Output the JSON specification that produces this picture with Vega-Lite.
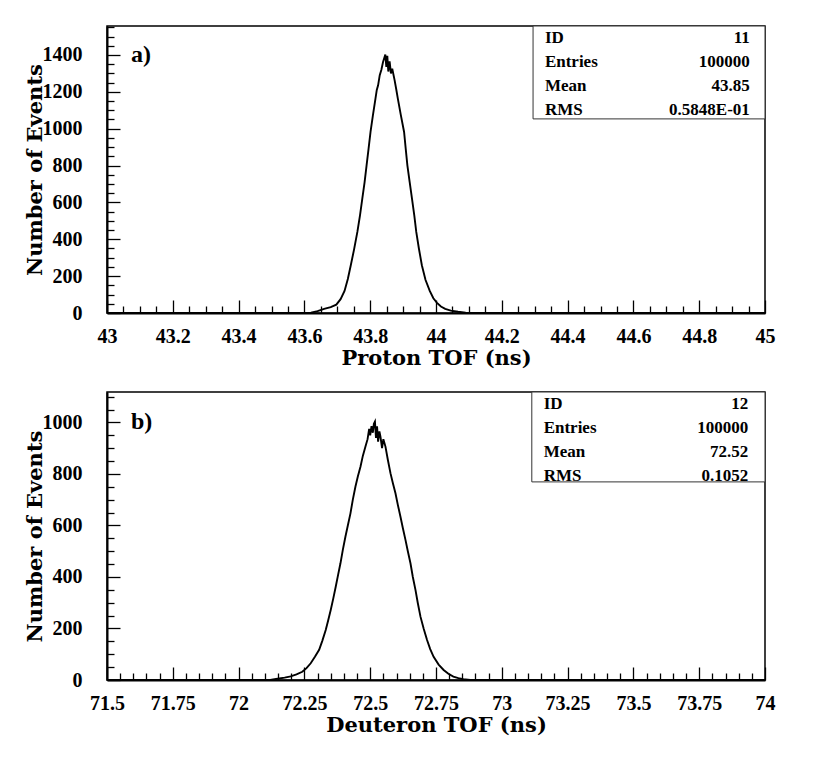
{
  "$schema": "https://vega.github.io/schema/vega-lite/v6.json",
  "padding": {"left": 23, "top": 24, "right": 10, "bottom": 10},
  "background": "white",
  "config": {
    "view": {"stroke": "black", "strokeWidth": 1.5},
    "axis": {
      "domainColor": "black", "domainWidth": 2,
      "tickColor": "black", "tickWidth": 1.3,
      "labelFont": "Liberation Serif", "labelFontWeight": "bold", "labelColor": "black",
      "titleFont": "DejaVu Serif", "titleFontWeight": "bold", "titleFontSize": 21, "titleColor": "black",
      "grid": false, "labelOverlap": false, "labelFlush": false, "tickCount": 200
    }
  },
  "datasets": {
    "proton": [
      {"tof": 43, "n": 0}, {"tof": 43.6, "n": 0}, {"tof": 43.62, "n": 2}, {"tof": 43.64, "n": 10},
      {"tof": 43.66, "n": 22}, {"tof": 43.68, "n": 32}, {"tof": 43.697, "n": 45}, {"tof": 43.71, "n": 75},
      {"tof": 43.722, "n": 120}, {"tof": 43.732, "n": 185}, {"tof": 43.741, "n": 259}, {"tof": 43.751, "n": 345},
      {"tof": 43.761, "n": 440}, {"tof": 43.769, "n": 530}, {"tof": 43.776, "n": 620}, {"tof": 43.783, "n": 710},
      {"tof": 43.789, "n": 801}, {"tof": 43.795, "n": 890}, {"tof": 43.801, "n": 982}, {"tof": 43.808, "n": 1070},
      {"tof": 43.816, "n": 1163}, {"tof": 43.82, "n": 1210}, {"tof": 43.824, "n": 1235}, {"tof": 43.829, "n": 1290},
      {"tof": 43.834, "n": 1320}, {"tof": 43.839, "n": 1362}, {"tof": 43.843, "n": 1385}, {"tof": 43.846, "n": 1402},
      {"tof": 43.849, "n": 1335}, {"tof": 43.852, "n": 1395}, {"tof": 43.855, "n": 1310}, {"tof": 43.859, "n": 1365},
      {"tof": 43.863, "n": 1300}, {"tof": 43.867, "n": 1325}, {"tof": 43.874, "n": 1265}, {"tof": 43.879, "n": 1215},
      {"tof": 43.884, "n": 1163}, {"tof": 43.893, "n": 1075}, {"tof": 43.903, "n": 982}, {"tof": 43.908, "n": 890},
      {"tof": 43.913, "n": 801}, {"tof": 43.92, "n": 710}, {"tof": 43.927, "n": 620}, {"tof": 43.934, "n": 530},
      {"tof": 43.94, "n": 440}, {"tof": 43.948, "n": 350}, {"tof": 43.957, "n": 259}, {"tof": 43.968, "n": 180},
      {"tof": 43.981, "n": 120}, {"tof": 43.992, "n": 80}, {"tof": 44.003, "n": 55}, {"tof": 44.015, "n": 35},
      {"tof": 44.028, "n": 22}, {"tof": 44.045, "n": 13}, {"tof": 44.067, "n": 7}, {"tof": 44.09, "n": 2},
      {"tof": 44.12, "n": 0}, {"tof": 45, "n": 0}
    ],
    "deuteron": [
      {"tof": 71.5, "n": 0}, {"tof": 72.12, "n": 0}, {"tof": 72.148, "n": 5}, {"tof": 72.175, "n": 9},
      {"tof": 72.198, "n": 14}, {"tof": 72.22, "n": 22}, {"tof": 72.242, "n": 32}, {"tof": 72.258, "n": 46},
      {"tof": 72.274, "n": 65}, {"tof": 72.29, "n": 90}, {"tof": 72.306, "n": 117}, {"tof": 72.318, "n": 152},
      {"tof": 72.331, "n": 194}, {"tof": 72.34, "n": 230}, {"tof": 72.35, "n": 272}, {"tof": 72.36, "n": 318},
      {"tof": 72.369, "n": 362}, {"tof": 72.378, "n": 408}, {"tof": 72.387, "n": 453}, {"tof": 72.396, "n": 505},
      {"tof": 72.406, "n": 557}, {"tof": 72.415, "n": 600}, {"tof": 72.425, "n": 647}, {"tof": 72.434, "n": 700},
      {"tof": 72.444, "n": 751}, {"tof": 72.453, "n": 790}, {"tof": 72.463, "n": 828}, {"tof": 72.472, "n": 870},
      {"tof": 72.482, "n": 906}, {"tof": 72.49, "n": 935}, {"tof": 72.496, "n": 975}, {"tof": 72.5, "n": 950},
      {"tof": 72.505, "n": 985}, {"tof": 72.51, "n": 960}, {"tof": 72.514, "n": 995}, {"tof": 72.518, "n": 1003},
      {"tof": 72.522, "n": 940}, {"tof": 72.526, "n": 985}, {"tof": 72.53, "n": 925}, {"tof": 72.535, "n": 965},
      {"tof": 72.539, "n": 945}, {"tof": 72.545, "n": 900}, {"tof": 72.55, "n": 935}, {"tof": 72.558, "n": 906},
      {"tof": 72.567, "n": 855}, {"tof": 72.577, "n": 803}, {"tof": 72.586, "n": 765}, {"tof": 72.596, "n": 725},
      {"tof": 72.605, "n": 680}, {"tof": 72.615, "n": 634}, {"tof": 72.624, "n": 590}, {"tof": 72.634, "n": 544},
      {"tof": 72.643, "n": 500}, {"tof": 72.653, "n": 453}, {"tof": 72.662, "n": 400}, {"tof": 72.672, "n": 350},
      {"tof": 72.681, "n": 298}, {"tof": 72.691, "n": 246}, {"tof": 72.703, "n": 200}, {"tof": 72.716, "n": 155},
      {"tof": 72.728, "n": 120}, {"tof": 72.741, "n": 90}, {"tof": 72.76, "n": 60}, {"tof": 72.779, "n": 39},
      {"tof": 72.797, "n": 24}, {"tof": 72.816, "n": 13}, {"tof": 72.835, "n": 7}, {"tof": 72.854, "n": 3},
      {"tof": 72.88, "n": 0}, {"tof": 74, "n": 0}
    ],
    "statsP": [
      {"stat": "ID", "value": "11"}, {"stat": "Entries", "value": "100000"},
      {"stat": "Mean", "value": "43.85"}, {"stat": "RMS", "value": "0.5848E-01"}
    ],
    "statsD": [
      {"stat": "ID", "value": "12"}, {"stat": "Entries", "value": "100000"},
      {"stat": "Mean", "value": "72.52"}, {"stat": "RMS", "value": "0.1052"}
    ],
    "one": [{}]
  },
  "spacing": 21,
  "vconcat": [
    {
      "width": 658, "height": 287,
      "resolve": {"scale": {"y": "independent"}},
      "layer": [
        {
          "layer": [
            {
              "data": {"name": "proton"},
              "mark": {"type": "line", "color": "black", "strokeWidth": 1.9, "clip": true},
              "encoding": {
                "x": {"field": "tof", "type": "quantitative", "scale": {"domain": [43, 45], "nice": false, "zero": false},
                  "axis": {"title": "Proton TOF (ns)", "titlePadding": 1, "labelPadding": 26, "labelOverlap": false, "labelBound": false, "tickCount": 200,
                    "values": [43,43.05,43.1,43.15,43.2,43.25,43.3,43.35,43.4,43.45,43.5,43.55,43.6,43.65,43.7,43.75,43.8,43.85,43.9,43.95,44,44.05,44.1,44.15,44.2,44.25,44.3,44.35,44.4,44.45,44.5,44.55,44.6,44.65,44.7,44.75,44.8,44.85,44.9,44.95,45],
                    "tickSize": {"condition": {"test": "abs(datum.value*5 - round(datum.value*5)) < 0.001", "value": -13}, "value": -7},
                    "labelFontSize": {"condition": {"test": "abs(datum.value*5 - round(datum.value*5)) < 0.001", "value": 20}, "value": 0},
                    "labelExpr": "abs(datum.value*5 - round(datum.value*5)) < 0.001 ? format(datum.value, '~g') : ''"}},
                "y": {"field": "n", "type": "quantitative", "scale": {"domain": [0, 1557], "nice": false},
                  "axis": {"title": "Number of Events", "titlePadding": -3, "labelPadding": 38, "labelOverlap": false, "labelBound": false, "tickCount": 200,
                    "values": [0,50,100,150,200,250,300,350,400,450,500,550,600,650,700,750,800,850,900,950,1000,1050,1100,1150,1200,1250,1300,1350,1400,1450,1500,1550],
                    "tickSize": {"condition": {"test": "datum.value % 200 === 0", "value": -13}, "value": -7},
                    "labelFontSize": {"condition": {"test": "datum.value % 200 === 0", "value": 20}, "value": 0},
                    "labelExpr": "datum.value % 200 === 0 ? format(datum.value, 'd') : ''"}}
              }
            },
            {
              "data": {"name": "one"},
              "mark": {"type": "text", "text": "a)", "font": "Liberation Serif", "fontWeight": "bold", "fontSize": 24, "align": "left", "baseline": "middle", "color": "black"},
              "encoding": {"x": {"datum": 43.073, "type": "quantitative"}, "y": {"datum": 1400, "type": "quantitative"}}
            },
            {
              "data": {"name": "one"},
              "mark": {"type": "rect", "fill": "white", "stroke": "#333", "strokeWidth": 1},
              "encoding": {
                "x": {"datum": 44.295, "type": "quantitative"}, "x2": {"datum": 45},
                "y": {"datum": 1053, "type": "quantitative"}, "y2": {"datum": 1557}
              }
            }
          ]
        },
        {
          "data": {"name": "statsP"},
          "layer": [
            {
              "mark": {"type": "text", "font": "Liberation Serif", "fontWeight": "bold", "fontSize": 17, "align": "left", "baseline": "middle", "color": "black"},
              "encoding": {
                "x": {"datum": 44.331, "type": "quantitative"},
                "y": {"field": "stat", "type": "ordinal", "scale": {"type": "point", "domain": ["ID", "Entries", "Mean", "RMS"], "range": [12, 83.5], "padding": 0}, "axis": null},
                "text": {"field": "stat"}
              }
            },
            {
              "mark": {"type": "text", "font": "Liberation Serif", "fontWeight": "bold", "fontSize": 17, "align": "right", "baseline": "middle", "color": "black"},
              "encoding": {
                "x": {"datum": 44.954, "type": "quantitative"},
                "y": {"field": "stat", "type": "ordinal", "scale": {"type": "point", "domain": ["ID", "Entries", "Mean", "RMS"], "range": [12, 83.5], "padding": 0}, "axis": null},
                "text": {"field": "value"}
              }
            }
          ]
        }
      ]
    },
    {
      "width": 658, "height": 288,
      "resolve": {"scale": {"y": "independent"}},
      "layer": [
        {
          "layer": [
            {
              "data": {"name": "deuteron"},
              "mark": {"type": "line", "color": "black", "strokeWidth": 1.9, "clip": true},
              "encoding": {
                "x": {"field": "tof", "type": "quantitative", "scale": {"domain": [71.5, 74], "nice": false, "zero": false},
                  "axis": {"title": "Deuteron TOF (ns)", "titlePadding": 1, "labelPadding": 26, "labelOverlap": false, "labelBound": false, "tickCount": 200,
                    "values": [71.5,71.55,71.6,71.65,71.7,71.75,71.8,71.85,71.9,71.95,72,72.05,72.1,72.15,72.2,72.25,72.3,72.35,72.4,72.45,72.5,72.55,72.6,72.65,72.7,72.75,72.8,72.85,72.9,72.95,73,73.05,73.1,73.15,73.2,73.25,73.3,73.35,73.4,73.45,73.5,73.55,73.6,73.65,73.7,73.75,73.8,73.85,73.9,73.95,74],
                    "tickSize": {"condition": {"test": "abs(datum.value*4 - round(datum.value*4)) < 0.001", "value": -13}, "value": -7},
                    "labelFontSize": {"condition": {"test": "abs(datum.value*4 - round(datum.value*4)) < 0.001", "value": 20}, "value": 0},
                    "labelExpr": "abs(datum.value*4 - round(datum.value*4)) < 0.001 ? format(datum.value, '~g') : ''"}},
                "y": {"field": "n", "type": "quantitative", "scale": {"domain": [0, 1118], "nice": false},
                  "axis": {"title": "Number of Events", "titlePadding": -3, "labelPadding": 38, "labelOverlap": false, "labelBound": false, "tickCount": 200,
                    "values": [0,50,100,150,200,250,300,350,400,450,500,550,600,650,700,750,800,850,900,950,1000,1050,1100],
                    "tickSize": {"condition": {"test": "datum.value % 200 === 0", "value": -13}, "value": -7},
                    "labelFontSize": {"condition": {"test": "datum.value % 200 === 0", "value": 20}, "value": 0},
                    "labelExpr": "datum.value % 200 === 0 ? format(datum.value, 'd') : ''"}}
              }
            },
            {
              "data": {"name": "one"},
              "mark": {"type": "text", "text": "b)", "font": "Liberation Serif", "fontWeight": "bold", "fontSize": 24, "align": "left", "baseline": "middle", "color": "black"},
              "encoding": {"x": {"datum": 71.591, "type": "quantitative"}, "y": {"datum": 1000, "type": "quantitative"}}
            },
            {
              "data": {"name": "one"},
              "mark": {"type": "rect", "fill": "white", "stroke": "#333", "strokeWidth": 1},
              "encoding": {
                "x": {"datum": 73.114, "type": "quantitative"}, "x2": {"datum": 74},
                "y": {"datum": 769, "type": "quantitative"}, "y2": {"datum": 1118}
              }
            }
          ]
        },
        {
          "data": {"name": "statsD"},
          "layer": [
            {
              "mark": {"type": "text", "font": "Liberation Serif", "fontWeight": "bold", "fontSize": 17, "align": "left", "baseline": "middle", "color": "black"},
              "encoding": {
                "x": {"datum": 73.159, "type": "quantitative"},
                "y": {"field": "stat", "type": "ordinal", "scale": {"type": "point", "domain": ["ID", "Entries", "Mean", "RMS"], "range": [12, 83.5], "padding": 0}, "axis": null},
                "text": {"field": "stat"}
              }
            },
            {
              "mark": {"type": "text", "font": "Liberation Serif", "fontWeight": "bold", "fontSize": 17, "align": "right", "baseline": "middle", "color": "black"},
              "encoding": {
                "x": {"datum": 73.936, "type": "quantitative"},
                "y": {"field": "stat", "type": "ordinal", "scale": {"type": "point", "domain": ["ID", "Entries", "Mean", "RMS"], "range": [12, 83.5], "padding": 0}, "axis": null},
                "text": {"field": "value"}
              }
            }
          ]
        }
      ]
    }
  ]
}
